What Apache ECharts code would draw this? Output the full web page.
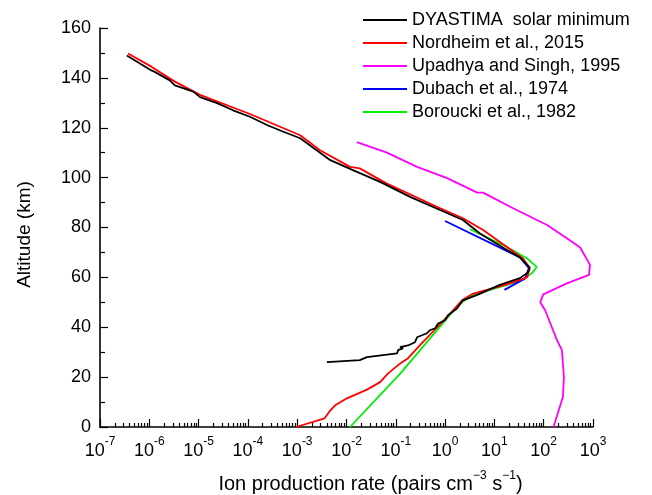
<!DOCTYPE html>
<html>
<head>
<meta charset="utf-8">
<script src="https://cdn.jsdelivr.net/npm/echarts@6/dist/echarts.min.js"></script>
<style>html,body{margin:0;padding:0;background:#fff;}#c{width:652px;height:495px;}</style>
</head>
<body>
<div id="c"></div>
<script>
// Series names
const seriesNames = ['DYASTIMA  solar minimum', 'Nordheim et al., 2015', 'Upadhya and Singh, 1995', 'Dubach et al., 1974', 'Boroucki et al., 1982'];
// [ion production rate, altitude km]
const dyastima = [
  [3.5e-7,149],[1.1e-6,143],[1.26e-6,142.5],[2.6e-6,139],[3.3e-6,137],[7.8e-6,134.5],[1.07e-5,132.3],
  [2.3e-5,130],[5e-5,127],[1.1e-4,124.4],[2.5e-4,121],[5.1e-4,118.5],[1.15e-3,115.8],[4.7e-3,107],
  [0.0135,103],[0.048,98.3],[0.195,92.3],[0.79,87],[2.3,83],[5.1,77.6],[14.8,72],[33,68],[52,64],
  [48,62],[33,59.7],[12.9,57],[4.5,53],[2.3,50.8],[1.74,47.5],[1.38,46],[1.45,45.5],[1.15,44.8],
  [1.0,42.8],[0.72,41.5],[0.63,39.6],[0.49,38.8],[0.43,37.6],[0.34,36.8],[0.27,36],[0.245,34],
  [0.177,32.7],[0.122,32],[0.14,31.5],[0.111,30.8],[0.106,29.5],[0.026,28],[0.0186,26.8],[0.004,26]
];
const nordheim = [
  [3.7e-7,149.8],[1.1e-6,144.5],[3.3e-6,138.5],[1.07e-5,133.2],[1.1e-4,125.5],[1.15e-3,117],
  [2.9e-3,111],[0.0118,104.3],[0.0186,103.7],[0.066,97.6],[0.68,88.3],[2.3,83.7],[5.9,79],
  [38,67.6],[52,63.7],[46,60],[18,57.2],[3.7,53.5],[2.2,50.8],[1.45,46.8],[0.69,40],[0.31,32.8],
  [0.178,27.6],[0.123,25.5],[0.069,21.4],[0.048,18],[0.026,15],[0.0102,11.5],[0.0059,8.7],
  [0.0047,6.7],[0.0036,3.5],[0.00095,0]
];
const upadhya = [
  [0.0162,114.2],[0.066,110],[0.27,104.3],[1.1,99.8],[4.5,94],[5.9,94],[24,87.7],[117,81],
  [295,75.7],[550,72],[870,65],[830,61],[295,57.6],[98,53.2],[85,50],[107,46.8],[186,34.8],
  [234,30.8],[257,20],[245,12],[158,0]
];
const dubach = [
  [1.0,82.6],[33,68],[50,63.7],[42,59.6],[16,55]
];
const borucki = [
  [3.2,79.3],[18,72.2],[46,67.6],[72,64.2],[60,62],[38,59],[18,57],[3.7,53],[2.2,50],[1.6,47.5],
  [0.123,21.4],[0.0118,0]
];
const colors = ['#000000','#ff0000','#ff00ff','#0000ff','#00ee00'];
const yTicks = {min:0, max:160, interval:20};
const xDecades = [-7,-6,-5,-4,-3,-2,-1,0,1,2,3];

const minorTicks = [];
for (let i = 0; i < xDecades.length - 1; i++) {
  for (let k = 2; k <= 9; k++) minorTicks.push(xDecades[i] + Math.log10(k));
}

const FONT = 'Liberation Sans, Arial, sans-serif';
const chart = echarts.init(document.getElementById('c'));
const allData = [dyastima, nordheim, upadhya, dubach, borucki];
chart.setOption({
  animation: false,
  textStyle: {fontFamily: FONT},
  grid: {left: 100, right: 59, top: 28, bottom: 68, outerBoundsMode: 'none', containLabel: false},
  legend: {
    orient: 'vertical', left: 358, top: 6, itemWidth: 44, itemHeight: 18, itemGap: 5,
    icon: 'path://M0,0 L44,0 L44,2 L0,2 Z', symbolKeepAspect: true,
    textStyle: {fontSize: 18, lineHeight: 18, color: '#000', fontFamily: FONT},
    data: seriesNames
  },
  xAxis: [{
    type: 'log', logBase: 10, min: 1e-7, max: 1e3, interval: 1,
    name: '{a|Ion production rate (pairs cm}{b|−3}{a| s}{b|−1}{a|)}',
    nameLocation: 'middle', nameGap: 43,
    nameTextStyle: {padding: [0,0,0,48], rich: {
      a: {fontSize: 20, color: '#000', fontFamily: FONT, lineHeight: 24, verticalAlign: 'bottom'},
      b: {fontSize: 12, color: '#000', fontFamily: FONT, lineHeight: 24, verticalAlign: 'top'}
    }},
    axisLine: {onZero: false, lineStyle: {color: '#000', width: 1.6}},
    axisTick: {inside: true, length: 8, lineStyle: {color: '#000', width: 1.2}},
    axisLabel: {
      margin: 9,
      formatter: v => '{a|10}{b|' + Math.round(Math.log10(v)) + '}',
      rich: {
        a: {fontSize: 18, color: '#000', fontFamily: FONT, lineHeight: 24, verticalAlign: 'bottom'},
        b: {fontSize: 12, color: '#000', fontFamily: FONT, lineHeight: 24, verticalAlign: 'top'}
      }
    },
    splitLine: {show: false}
  }, {
    type: 'value', min: -7, max: 3, position: 'bottom',
    axisLine: {show: false, onZero: false},
    axisLabel: {show: false},
    axisTick: {show: true, inside: true, length: 4, customValues: minorTicks, lineStyle: {color: '#000', width: 1.2}},
    splitLine: {show: false}
  }],
  yAxis: {
    type: 'value', min: yTicks.min, max: yTicks.max, interval: yTicks.interval,
    name: 'Altitude (km)', nameLocation: 'middle', nameGap: 66,
    nameTextStyle: {fontSize: 19, color: '#000', fontFamily: FONT, padding: [0,14,0,0]},
    axisLine: {show: true, onZero: false, lineStyle: {color: '#000', width: 1.6}},
    axisTick: {show: true, inside: true, length: 8, lineStyle: {color: '#000', width: 1.2}},
    minorTick: {show: true, splitNumber: 2, length: 5, lineStyle: {color: '#000', width: 1.2}},
    axisLabel: {fontSize: 18, color: '#000', margin: 9},
    splitLine: {show: false}
  },
  series: allData.map((d, i) => ({
    name: seriesNames[i], type: 'line', data: d, symbol: 'none',
    xAxisIndex: 0, yAxisIndex: 0,
    lineStyle: {color: colors[i], width: 1.8}, itemStyle: {color: colors[i]}, z: 10 - i
  }))
});
</script>
</body>
</html>
